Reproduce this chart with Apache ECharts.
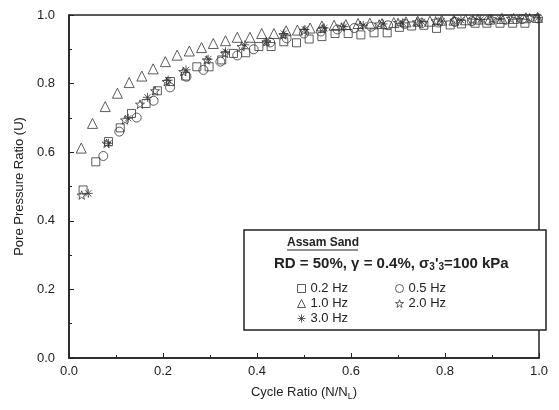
<!DOCTYPE html>
<html>
<head>
<meta charset="utf-8">
<script src="https://cdn.jsdelivr.net/npm/echarts@6/dist/echarts.min.js"></script>
<style>
  html, body { margin: 0; padding: 0; background: #fff; }
  #chart { width: 559px; height: 410px; }
</style>
</head>
<body>
<div id="chart"></div>
<script>
// cycle ratio (N/NL) and pore pressure ratio (U) per loading frequency
var x02 = [0.030, 0.057, 0.084, 0.109, 0.133, 0.164, 0.188, 0.216, 0.248, 0.272, 0.298, 0.325, 0.350, 0.376, 0.404, 0.430, 0.457, 0.484, 0.511, 0.538, 0.566, 0.594, 0.621, 0.649, 0.677, 0.703, 0.729, 0.755, 0.782, 0.811, 0.835, 0.864, 0.889, 0.917, 0.944, 0.970];
var u02 = [0.490, 0.572, 0.631, 0.671, 0.713, 0.742, 0.779, 0.806, 0.822, 0.849, 0.849, 0.869, 0.888, 0.890, 0.908, 0.908, 0.922, 0.919, 0.930, 0.937, 0.946, 0.946, 0.942, 0.948, 0.948, 0.964, 0.968, 0.970, 0.961, 0.971, 0.974, 0.976, 0.976, 0.976, 0.976, 0.976];

var x05 = [0.073, 0.107, 0.144, 0.180, 0.215, 0.250, 0.286, 0.322, 0.358, 0.393, 0.428, 0.463, 0.500, 0.536, 0.571, 0.607, 0.643, 0.679, 0.714, 0.750, 0.786, 0.821, 0.857, 0.893, 0.929, 0.964, 0.998];
var u05 = [0.589, 0.660, 0.701, 0.750, 0.789, 0.820, 0.840, 0.864, 0.882, 0.900, 0.920, 0.932, 0.946, 0.952, 0.958, 0.962, 0.966, 0.970, 0.974, 0.976, 0.978, 0.980, 0.982, 0.984, 0.986, 0.988, 0.990];

var x10 = [0.026, 0.050, 0.077, 0.103, 0.128, 0.155, 0.179, 0.205, 0.230, 0.256, 0.282, 0.307, 0.333, 0.358, 0.385, 0.410, 0.436, 0.462, 0.486, 0.513, 0.538, 0.564, 0.589, 0.615, 0.640, 0.666, 0.691, 0.717, 0.742, 0.768, 0.793, 0.819, 0.844, 0.870, 0.895, 0.921, 0.946, 0.972, 0.997];
var u10 = [0.612, 0.684, 0.733, 0.772, 0.803, 0.822, 0.843, 0.864, 0.883, 0.895, 0.905, 0.917, 0.925, 0.935, 0.935, 0.946, 0.946, 0.954, 0.956, 0.962, 0.968, 0.970, 0.972, 0.975, 0.976, 0.975, 0.978, 0.980, 0.982, 0.982, 0.985, 0.985, 0.986, 0.988, 0.988, 0.990, 0.990, 0.992, 0.993];

var x20 = [0.027, 0.080, 0.119, 0.151, 0.183, 0.208, 0.243, 0.293, 0.332, 0.367, 0.420, 0.456, 0.500, 0.540, 0.580, 0.620, 0.660, 0.700, 0.740, 0.780, 0.820, 0.860, 0.900, 0.940, 0.980];
var u20 = [0.475, 0.626, 0.694, 0.740, 0.779, 0.806, 0.835, 0.869, 0.888, 0.908, 0.922, 0.942, 0.955, 0.960, 0.965, 0.970, 0.974, 0.978, 0.980, 0.983, 0.985, 0.987, 0.989, 0.990, 0.992];

var x30 = [0.041, 0.084, 0.126, 0.167, 0.211, 0.249, 0.296, 0.333, 0.374, 0.420, 0.457, 0.502, 0.543, 0.585, 0.626, 0.668, 0.710, 0.751, 0.793, 0.834, 0.876, 0.917, 0.959, 0.998];
var u30 = [0.480, 0.626, 0.699, 0.760, 0.810, 0.840, 0.871, 0.893, 0.913, 0.922, 0.946, 0.958, 0.962, 0.966, 0.970, 0.974, 0.977, 0.980, 0.982, 0.985, 0.987, 0.989, 0.990, 0.992];

var names = ['0.2 Hz', '0.5 Hz', '1.0 Hz', '2.0 Hz', '3.0 Hz'];

var FONT = 'Liberation Sans, Arial, sans-serif';
var INK = '#222';

var STAR = 'path://M10,0L12.35,6.76L19.51,6.91L13.8,11.24L15.88,18.09L10,14L4.12,18.09L6.2,11.24L0.49,6.91L7.65,6.76Z';
var ASTER = 'path://M0,10L20,10M10,0L10,20M3,3L17,17M17,3L3,17';

function pairs(xs, ys) {
  return xs.map(function (v, i) { return [v, ys[i]]; });
}

function mkSeries(name, xs, ys, symbol, size) {
  return {
    name: name,
    type: 'scatter',
    data: pairs(xs, ys),
    symbol: symbol,
    symbolSize: size,
    symbolKeepAspect: true,
    itemStyle: {
      color: 'rgba(255,255,255,0)',
      borderColor: '#333',
      borderWidth: 1
    },
    emphasis: { disabled: true }
  };
}

// legend icons: outline only, thin like the plot marks
var legendIcon = {
  color: 'rgba(255,255,255,0)',
  borderColor: '#333',
  borderWidth: 1
};

var chart = echarts.init(document.getElementById('chart'));

chart.setOption({
  animation: false,
  backgroundColor: '#fff',
  textStyle: { fontFamily: FONT },
  grid: {
    left: 69, right: 20, top: 15, bottom: 52,
    show: true,
    borderColor: INK,
    borderWidth: 1.5
  },
  xAxis: {
    type: 'value',
    min: 0, max: 1, interval: 0.2,
    name: 'Cycle Ratio (N/N{sub|L})',
    nameLocation: 'middle',
    nameGap: 26,
    nameTextStyle: {
      fontFamily: FONT, fontSize: 13, color: INK,
      rich: { sub: { fontFamily: FONT, fontSize: 9, color: INK, verticalAlign: 'bottom', padding: [8, 0, 0, 0] } }
    },
    axisLine: { lineStyle: { color: INK, width: 1.5 } },
    axisTick: { inside: true, length: 5, lineStyle: { color: INK } },
    minorTick: { show: true, splitNumber: 2, length: 3, lineStyle: { color: INK } },
    splitLine: { show: false },
    axisLabel: { fontFamily: FONT, fontSize: 13, color: INK, margin: 7, formatter: function (v) { return v.toFixed(1); } }
  },
  yAxis: {
    type: 'value',
    min: 0, max: 1, interval: 0.2,
    name: 'Pore Pressure Ratio (U)',
    nameLocation: 'middle',
    nameGap: 38,
    nameTextStyle: { fontFamily: FONT, fontSize: 13, color: INK },
    axisLine: { lineStyle: { color: INK, width: 1.5 } },
    axisTick: { inside: true, length: 5, lineStyle: { color: INK } },
    minorTick: { show: true, splitNumber: 2, length: 3, lineStyle: { color: INK } },
    splitLine: { show: false },
    axisLabel: { fontFamily: FONT, fontSize: 13, color: INK, margin: 14, formatter: function (v) { return v.toFixed(1); } }
  },
  legend: [{
    data: [names[0], names[2], names[4]],
    orient: 'vertical',
    left: 292, top: 276,
    itemWidth: 8, itemHeight: 8, itemGap: 0,
    selectedMode: false,
    itemStyle: legendIcon,
    textStyle: { fontFamily: FONT, fontSize: 13, color: INK, lineHeight: 15 }
  }, {
    data: [names[1], names[3]],
    orient: 'vertical',
    left: 390, top: 276,
    itemWidth: 8, itemHeight: 8, itemGap: 0,
    selectedMode: false,
    itemStyle: legendIcon,
    textStyle: { fontFamily: FONT, fontSize: 13, color: INK, lineHeight: 15 }
  }],
  graphic: [{
    type: 'rect',
    z: 3,
    shape: { x: 244, y: 230, width: 302, height: 100 },
    style: { fill: '#fff', stroke: INK, lineWidth: 1.5 }
  }, {
    type: 'text',
    z: 4,
    left: 287, top: 237,
    style: { text: 'Assam Sand', font: 'bold 12px ' + FONT, fill: INK }
  }, {
    type: 'line',
    z: 4,
    shape: { x1: 287, y1: 250, x2: 358, y2: 250 },
    style: { stroke: INK, lineWidth: 1 }
  }, {
    type: 'text',
    z: 4,
    left: 274, top: 256,
    style: {
      text: 'RD = 50%, γ = 0.4%, σ{sub|3}\'{sub|3}=100 kPa',
      font: 'bold 15px ' + FONT,
      fill: INK,
      rich: { sub: { font: 'bold 10px ' + FONT, fill: INK, padding: [8, 0, 0, 0] } }
    }
  }],
  series: [
    mkSeries(names[0], x02, u02, 'rect', 8),
    mkSeries(names[1], x05, u05, 'circle', 9),
    mkSeries(names[2], x10, u10, 'triangle', 10),
    mkSeries(names[3], x20, u20, STAR, 9),
    mkSeries(names[4], x30, u30, ASTER, 9)
  ]
});
</script>
</body>
</html>
